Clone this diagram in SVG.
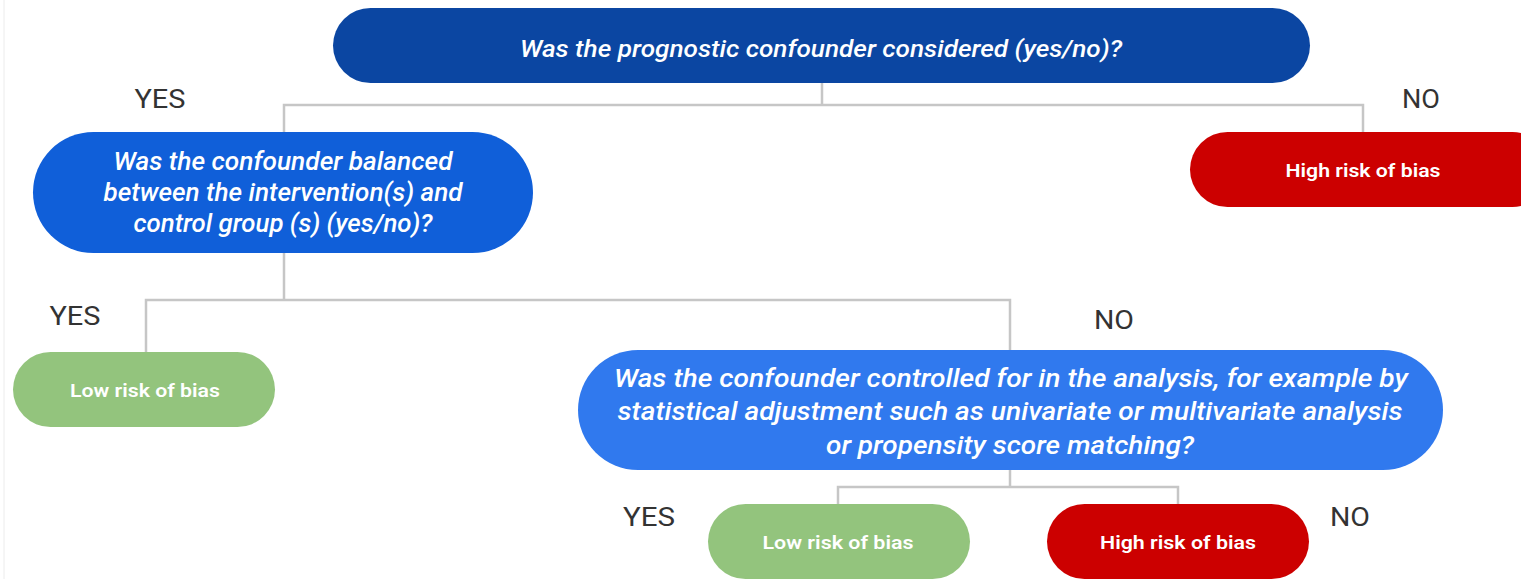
<svg xmlns="http://www.w3.org/2000/svg" width="1521" height="579" viewBox="0 0 1521 579">
<style>
.q{font-family:Roboto,"Liberation Sans",sans-serif;font-style:italic;font-weight:500;fill:#fff;text-anchor:middle}
.r{font-family:Roboto,"Liberation Sans",sans-serif;font-weight:600;font-size:19px;fill:#fff;text-anchor:middle}
.lab{font-family:Roboto,"Liberation Sans",sans-serif;font-size:25px;fill:#333;text-anchor:middle}
.c{fill:none;stroke:#c6c6c6;stroke-width:2.5}
</style>
<rect width="1521" height="579" fill="#fff"/>
<line x1="4" y1="0" x2="4" y2="579" stroke="#ececec" stroke-width="1"/>
<g id="connectors">
<path class="c" d="M822 83V105M284 132V105H1363V132"/>
<path class="c" d="M284 253V300M146 352V300H1010V350"/>
<path class="c" d="M1010 470V487M838 504V487H1178V504"/>
</g>
<g id="labels">
<text class="lab" x="160" y="108" textLength="51" lengthAdjust="spacingAndGlyphs">YES</text>
<text class="lab" x="1421" y="108" textLength="38" lengthAdjust="spacingAndGlyphs">NO</text>
<text class="lab" x="75" y="325" textLength="51" lengthAdjust="spacingAndGlyphs">YES</text>
<text class="lab" x="1114" y="329" textLength="40" lengthAdjust="spacingAndGlyphs">NO</text>
<text class="lab" x="649" y="526" textLength="52" lengthAdjust="spacingAndGlyphs">YES</text>
<text class="lab" x="1350" y="526" textLength="40" lengthAdjust="spacingAndGlyphs">NO</text>
</g>
<g id="q1">
<rect x="333" y="8" width="977" height="75" rx="37.5" fill="#0b46a2"/>
<text class="q" x="821" y="57" font-size="24" textLength="602" lengthAdjust="spacingAndGlyphs">Was the prognostic confounder considered (yes/no)?</text>
</g>
<g id="q2">
<rect x="33" y="132" width="500" height="121" rx="60.5" fill="#105fd9"/>
<text class="q" x="283" y="170" font-size="25" textLength="339" lengthAdjust="spacingAndGlyphs">Was the confounder balanced</text>
<text class="q" x="283" y="201" font-size="25" textLength="359" lengthAdjust="spacingAndGlyphs">between the intervention(s) and</text>
<text class="q" x="283" y="232" font-size="25" textLength="299" lengthAdjust="spacingAndGlyphs">control group (s) (yes/no)?</text>
</g>
<g id="high1">
<rect x="1190" y="132" width="360" height="75" rx="37.5" fill="#cc0000"/>
<text class="r" x="1363" y="177" textLength="155" lengthAdjust="spacingAndGlyphs">High risk of bias</text>
</g>
<g id="low1">
<rect x="13" y="352" width="262" height="75" rx="37.5" fill="#93c47d"/>
<text class="r" x="145" y="397" textLength="150" lengthAdjust="spacingAndGlyphs">Low risk of bias</text>
</g>
<g id="q3">
<rect x="578" y="350" width="865" height="120" rx="60" fill="#3079ee"/>
<text class="q" x="1011" y="387" font-size="25" textLength="794" lengthAdjust="spacingAndGlyphs">Was the confounder controlled for in the analysis, for example by</text>
<text class="q" x="1010" y="420" font-size="25" textLength="785" lengthAdjust="spacingAndGlyphs">statistical adjustment such as univariate or multivariate analysis</text>
<text class="q" x="1010" y="454" font-size="25" textLength="368" lengthAdjust="spacingAndGlyphs">or propensity score matching?</text>
</g>
<g id="low2">
<rect x="708" y="504" width="262" height="75" rx="37.5" fill="#93c47d"/>
<text class="r" x="838" y="549" textLength="151" lengthAdjust="spacingAndGlyphs">Low risk of bias</text>
</g>
<g id="high2">
<rect x="1047" y="504" width="262" height="75" rx="37.5" fill="#cc0000"/>
<text class="r" x="1178" y="549" textLength="156" lengthAdjust="spacingAndGlyphs">High risk of bias</text>
</g>
</svg>
